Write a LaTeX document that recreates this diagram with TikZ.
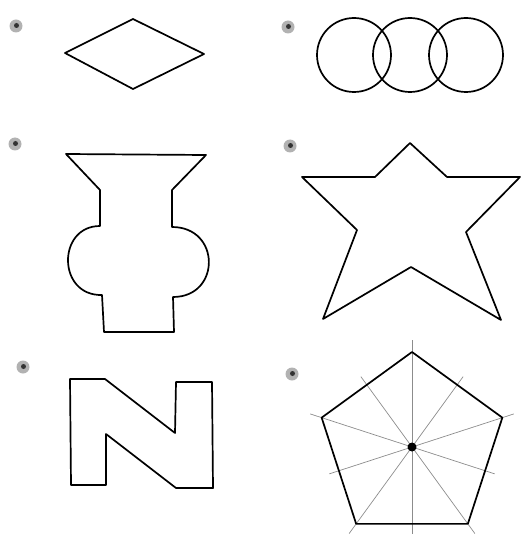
\documentclass[tikz,border=0pt]{standalone}
\usetikzlibrary{calc}
\begin{document}
\begin{tikzpicture}[x=1pt,y=-1pt,
  outline/.style={draw=black,line width=1.7pt,line join=round},
  guide/.style={draw=black!45,line width=0.7pt},
  marker/.style={circle,fill=black!30,inner sep=0pt,minimum size=13pt}]
\useasboundingbox (0,0) rectangle (525,540);
% markers
\foreach \n/\x/\y in {m1/16/26,m2/288/27,m3/15/144,m4/290/146,m5/23/367,m6/292/374}{
  \node[marker] (\n) at (\x,\y) {};
  \fill[black!80] (\x+0.5,\y-0.5) circle (2.5pt);
}
% 1 diamond
\draw[outline] (65,53) -- (133,19) -- (204,54) -- (133,89) -- cycle;
% 2 three circles
\foreach \cx in {354,410,466}{\draw[outline] (\cx,55) circle (37);}
% 3 vase
\draw[outline] (66,154) -- (206,155) -- (172,190) -- (172,227)
  .. controls (221,227) and (221,297) .. (173,297)
  -- (174,332) -- (104,332) -- (102,295)
  .. controls (57,296) and (57,226) .. (100,226)
  -- (100,190) -- cycle;
% 4 star
\draw[outline] (410,143) -- (447,177) -- (520,177) -- (466,232) -- (501,320)
  -- (411,267) -- (323,319) -- (357,230) -- (302,177) -- (375,177) -- cycle;
% 5 N
\draw[outline] (70,379) -- (105,379) -- (175,433) -- (176,382) -- (212,382)
  -- (213,488) -- (176,488) -- (106,434) -- (106,485) -- (71,485) -- cycle;
% 6 pentagon with symmetry lines
\coordinate (c) at (412,447);
\foreach \a in {-90,-18,54,126,198}{
  \draw[guide] ($(c)+(\a:107)$) -- ($(c)+(\a+180:87)$);
}
\draw[outline] ($(c)+(-90:95)$) -- ($(c)+(-18:95)$) -- ($(c)+(54:95)$)
  -- ($(c)+(126:95)$) -- ($(c)+(198:95)$) -- cycle;
\fill (c) circle (4.5);
\end{tikzpicture}
\end{document}
